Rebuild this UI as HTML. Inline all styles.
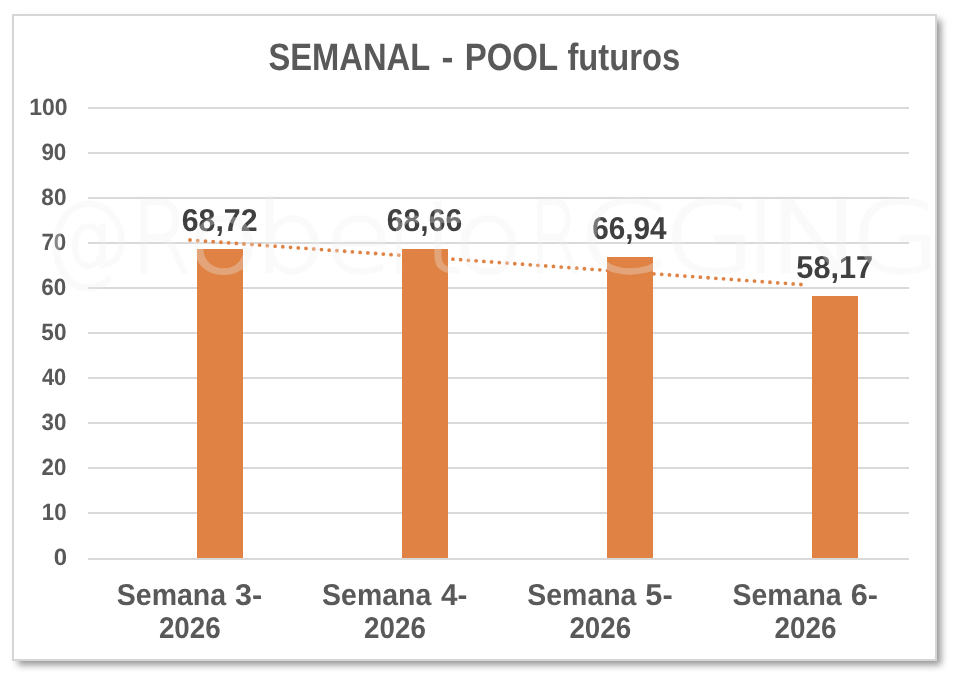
<!DOCTYPE html>
<html>
<head>
<meta charset="utf-8">
<style>
html,body{margin:0;padding:0;background:#fff;width:954px;height:680px;overflow:hidden;}
#frame{position:absolute;left:12px;top:14px;width:921px;height:643px;border:2px solid #d6d6d6;background:#fff;box-shadow:5px 5px 7px -1px rgba(0,0,0,0.42);}
svg{position:absolute;left:0;top:0;will-change:transform;}
text{font-family:"Liberation Sans",Arial,sans-serif;font-weight:bold;text-rendering:geometricPrecision;}
text.wm{font-family:"DejaVu Sans",sans-serif;font-weight:200;}
</style>
</head>
<body>
<div id="frame"></div>
<svg width="954" height="680" viewBox="0 0 954 680">
<g fill="#d9d9d9"><rect x="88" y="107" width="821" height="2"/><rect x="88" y="152" width="821" height="2"/><rect x="88" y="197" width="821" height="2"/><rect x="88" y="242" width="821" height="2"/><rect x="88" y="287" width="821" height="2"/><rect x="88" y="332" width="821" height="2"/><rect x="88" y="377" width="821" height="2"/><rect x="88" y="422" width="821" height="2"/><rect x="88" y="467" width="821" height="2"/><rect x="88" y="512" width="821" height="2"/><rect x="88" y="558" width="821" height="2"/></g>
<g fill="#df8244"><rect x="197" y="249" width="46" height="309"/><rect x="402" y="249" width="46" height="309"/><rect x="607" y="257" width="46" height="301"/><rect x="812" y="296" width="46" height="262"/></g>
<line x1="190" y1="240" x2="800.9" y2="284.5" stroke="#df8244" stroke-width="3.8" stroke-linecap="round" stroke-dasharray="0 7.7534"/>
<g fill="#595959"><text y="70" font-size="38"><tspan x="268.52" textLength="161.02" lengthAdjust="spacingAndGlyphs">SEMANAL</tspan> <tspan x="441.57" textLength="11.95" lengthAdjust="spacingAndGlyphs">-</tspan> <tspan x="464.69" textLength="92.76" lengthAdjust="spacingAndGlyphs">POOL</tspan> <tspan x="567.49" textLength="112.59" lengthAdjust="spacingAndGlyphs">futuros</tspan></text></g>
<g fill="#595959"><text transform="translate(29.23,0) scale(0.9781,1)" x="0" y="114.75" font-size="23.5">100</text><text transform="translate(41.38,0) scale(0.9536,1)" x="0" y="159.75" font-size="23.5">90</text><text transform="translate(41.34,0) scale(0.9606,1)" x="0" y="204.75" font-size="23.5">80</text><text transform="translate(41.40,0) scale(0.9517,1)" x="0" y="249.75" font-size="23.5">70</text><text transform="translate(41.37,0) scale(0.9539,1)" x="0" y="294.75" font-size="23.5">60</text><text transform="translate(41.34,0) scale(0.9594,1)" x="0" y="339.75" font-size="23.5">50</text><text transform="translate(41.98,0) scale(0.9278,1)" x="0" y="384.75" font-size="23.5">40</text><text transform="translate(41.53,0) scale(0.9499,1)" x="0" y="429.75" font-size="23.5">30</text><text transform="translate(41.57,0) scale(0.9471,1)" x="0" y="474.75" font-size="23.5">20</text><text transform="translate(41.80,0) scale(0.9451,1)" x="0" y="519.75" font-size="23.5">10</text><text transform="translate(53.64,0) scale(1.0179,1)" x="0" y="564.75" font-size="23.5">0</text></g>
<g fill="#404040"><text y="230.8" font-size="31.7"><tspan x="181.77" textLength="75.70" lengthAdjust="spacingAndGlyphs">68,72</tspan></text><text y="230.8" font-size="31.7"><tspan x="386.87" textLength="75.24" lengthAdjust="spacingAndGlyphs">68,66</tspan></text><text y="238.8" font-size="31.7"><tspan x="592.18" textLength="74.43" lengthAdjust="spacingAndGlyphs">66,94</tspan></text><text y="277.8" font-size="31.7"><tspan x="796.31" textLength="76.87" lengthAdjust="spacingAndGlyphs">58,17</tspan></text></g>
<g fill="#595959"><text y="605" font-size="30"><tspan x="116.80" textLength="109.31" lengthAdjust="spacingAndGlyphs">Semana</tspan> <tspan x="235.11" textLength="27.16" lengthAdjust="spacingAndGlyphs">3-</tspan></text><text y="637.8" font-size="30"><tspan x="158.88" textLength="61.77" lengthAdjust="spacingAndGlyphs">2026</tspan></text><text y="605" font-size="30"><tspan x="322.11" textLength="109.11" lengthAdjust="spacingAndGlyphs">Semana</tspan> <tspan x="440.99" textLength="26.39" lengthAdjust="spacingAndGlyphs">4-</tspan></text><text y="637.8" font-size="30"><tspan x="364.10" textLength="61.73" lengthAdjust="spacingAndGlyphs">2026</tspan></text><text y="605" font-size="30"><tspan x="527.27" textLength="109.19" lengthAdjust="spacingAndGlyphs">Semana</tspan> <tspan x="645.33" textLength="27.35" lengthAdjust="spacingAndGlyphs">5-</tspan></text><text y="637.8" font-size="30"><tspan x="569.39" textLength="61.80" lengthAdjust="spacingAndGlyphs">2026</tspan></text><text y="605" font-size="30"><tspan x="732.54" textLength="109.16" lengthAdjust="spacingAndGlyphs">Semana</tspan> <tspan x="850.71" textLength="27.15" lengthAdjust="spacingAndGlyphs">6-</tspan></text><text y="637.8" font-size="30"><tspan x="774.51" textLength="61.93" lengthAdjust="spacingAndGlyphs">2026</tspan></text></g>
<text class="wm" y="272" font-size="99" fill="#efefef" stroke="#efefef" stroke-width="2.5" opacity="0.31"><tspan x="44.32" textLength="86.42" lengthAdjust="spacingAndGlyphs">@</tspan><tspan x="131.05" textLength="60.11" lengthAdjust="spacingAndGlyphs">R</tspan><tspan x="185.80" textLength="75.46" lengthAdjust="spacingAndGlyphs">o</tspan><tspan x="254.08" textLength="72.58" lengthAdjust="spacingAndGlyphs">b</tspan><tspan x="324.24" textLength="68.15" lengthAdjust="spacingAndGlyphs">e</tspan><tspan x="389.04" textLength="28.16" lengthAdjust="spacingAndGlyphs">r</tspan><tspan x="424.24" textLength="38.82" lengthAdjust="spacingAndGlyphs">t</tspan><tspan x="452.79" textLength="70.98" lengthAdjust="spacingAndGlyphs">o</tspan><tspan x="528.67" textLength="52.43" lengthAdjust="spacingAndGlyphs">R</tspan><tspan x="578.12" textLength="88.13" lengthAdjust="spacingAndGlyphs">C</tspan><tspan x="663.52" textLength="92.70" lengthAdjust="spacingAndGlyphs">G</tspan><tspan x="746.26" textLength="29.20" lengthAdjust="spacingAndGlyphs">I</tspan><tspan x="766.90" textLength="97.27" lengthAdjust="spacingAndGlyphs">N</tspan><tspan x="850.75" textLength="90.16" lengthAdjust="spacingAndGlyphs">G</tspan></text>
</svg>
</body>
</html>
